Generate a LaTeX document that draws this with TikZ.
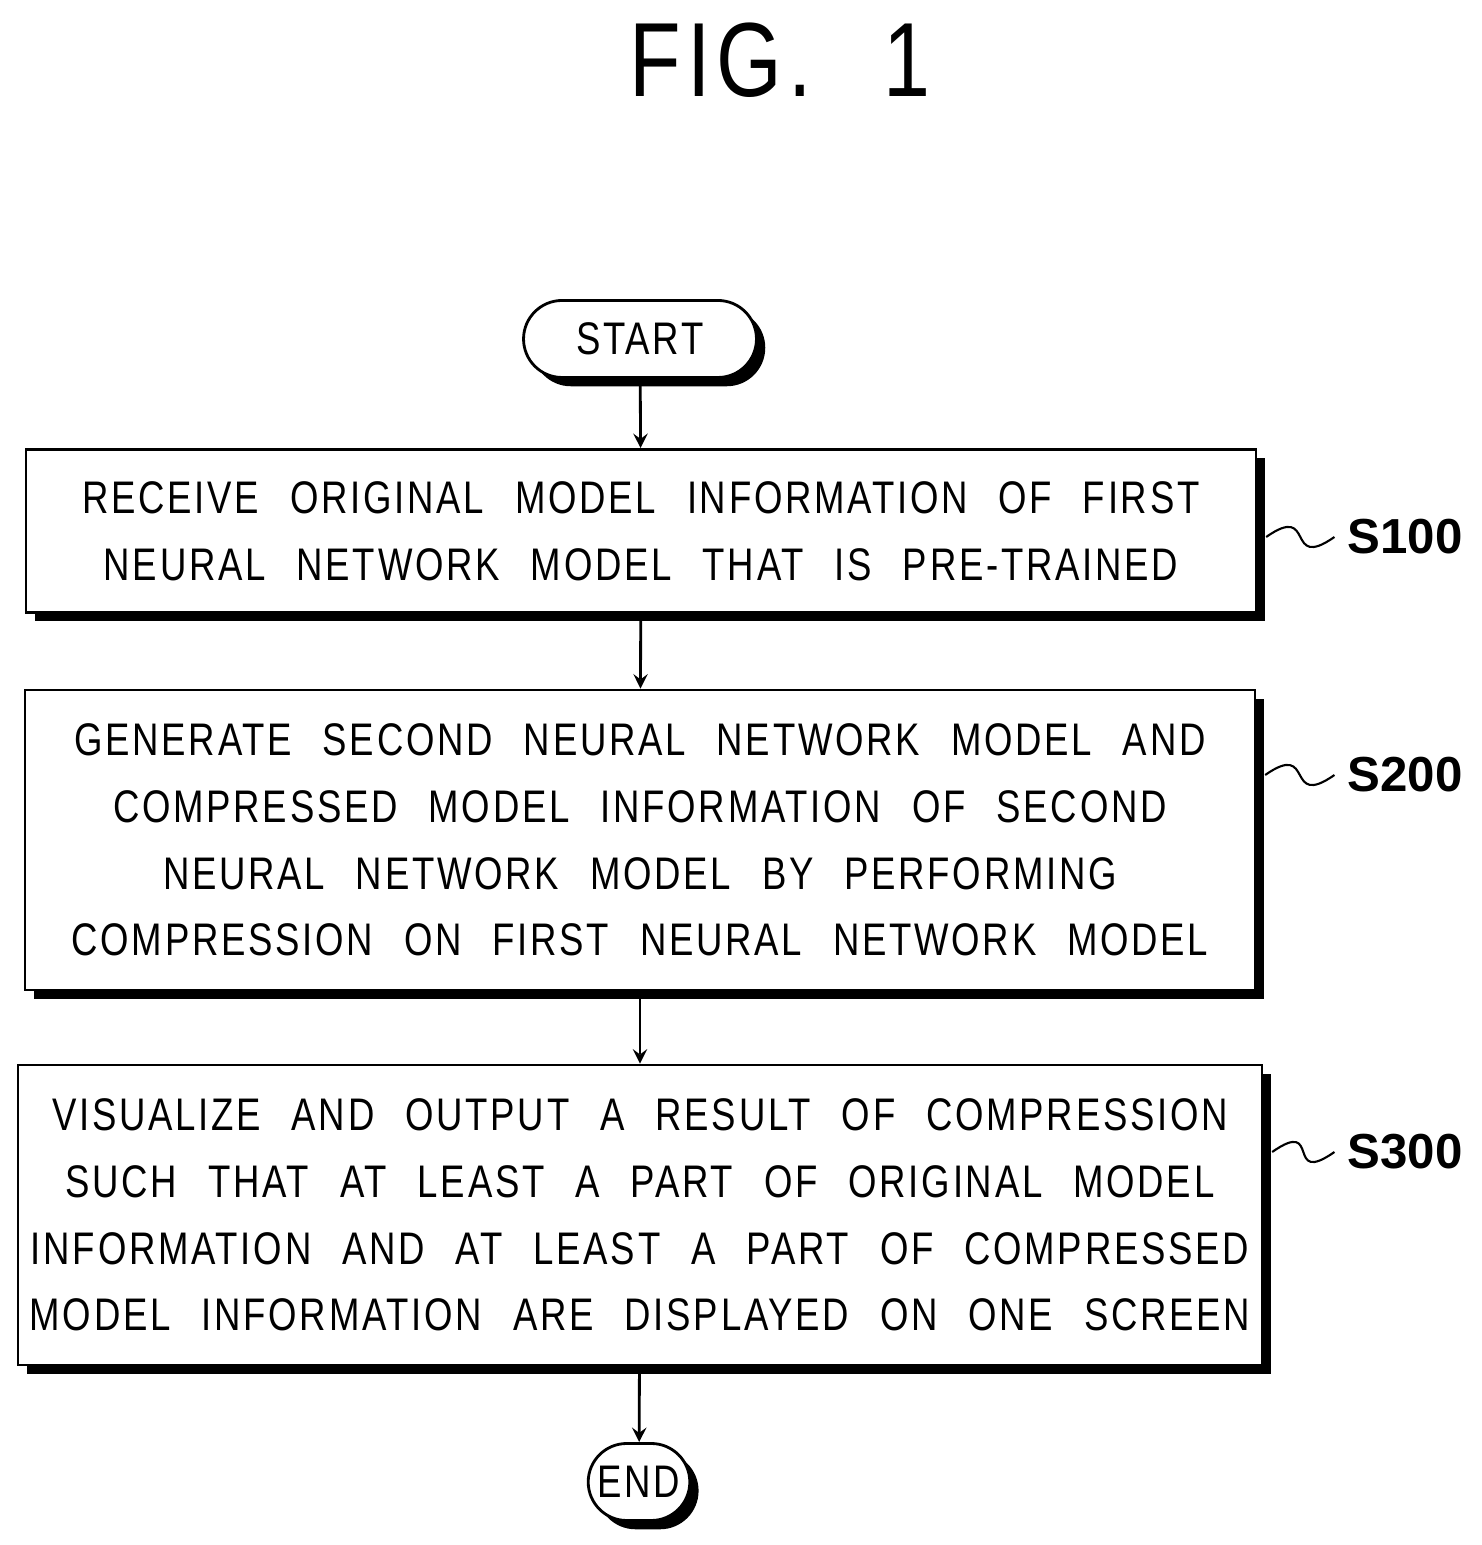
\documentclass[tikz,border=0pt]{standalone}
\usepackage{fontspec}
\setmainfont{Liberation Sans}
\newfontfamily\flowfont{Liberation Sans}[FakeStretch=0.8, LetterSpace=6, WordSpace=2.4]
\usetikzlibrary{shapes.misc,shadows}
\begin{document}
\begin{tikzpicture}[thick, every node/.style={font=\flowfont\fontsize{13}{19}\selectfont}]
    \tikzstyle{process}=[rectangle, draw, thick, fill=white, align=center, minimum width=12.3cm,
        drop shadow={shadow xshift=2.5pt, shadow yshift=-2.5pt, opacity=1, fill=black}]
    \tikzstyle{terminal}=[rounded rectangle, draw, thick, fill=white, minimum width=2.0cm, minimum height=0.77cm, inner xsep=14pt,
        drop shadow={shadow xshift=2.5pt, shadow yshift=-2.5pt, opacity=1, fill=black}]
    \tikzstyle{tag}=[font=\bfseries\fontsize{14}{18}\selectfont]
    \useasboundingbox (0,0) rectangle (14.82,15.45);

    % Title
    \node (title) at (7.8,14.85) {\fontsize{30}{34}\selectfont FIG. 1};

    % Terminals
    \node[terminal] (start) at (6.40,12.06) {START};
    \node[terminal] (end) at (6.39,0.63) {END};

    % Steps
    \node[process, minimum height=1.63cm] (S1) at (6.41,10.14) {RECEIVE ORIGINAL MODEL INFORMATION OF FIRST\\NEURAL NETWORK MODEL THAT IS PRE-TRAINED};
    \node[process, minimum height=3.0cm] (S2) at (6.40,7.05) {GENERATE SECOND NEURAL NETWORK MODEL AND\\COMPRESSED MODEL INFORMATION OF SECOND\\NEURAL NETWORK MODEL BY PERFORMING\\COMPRESSION ON FIRST NEURAL NETWORK MODEL};
    \node[process, minimum height=3.0cm] (S3) at (6.40,3.30) {VISUALIZE AND OUTPUT A RESULT OF COMPRESSION\\SUCH THAT AT LEAST A PART OF ORIGINAL MODEL\\INFORMATION AND AT LEAST A PART OF COMPRESSED\\MODEL INFORMATION ARE DISPLAYED ON ONE SCREEN};

    % Step labels
    \node[tag] (L1) at (14.05,10.08) {S100};
    \node[tag] (L2) at (14.05,7.70) {S200};
    \node[tag] (L3) at (14.05,3.93) {S300};

    % Arrows
    \draw[-stealth] (start) -- (S1);
    \draw[-stealth] (S1) -- (S2);
    \draw[-stealth] (S2) -- (S3);
    \draw[-stealth] (S3) -- (end);

    % Label leaders
    \foreach \s/\l in {S1/L1,S2/L2,S3/L3}
        \draw[semithick] ([xshift=2.5pt]\s.east |- \l.west) .. controls +(0.5,0.35) and +(-0.5,-0.35) .. (\l.west);
\end{tikzpicture}
\end{document}
